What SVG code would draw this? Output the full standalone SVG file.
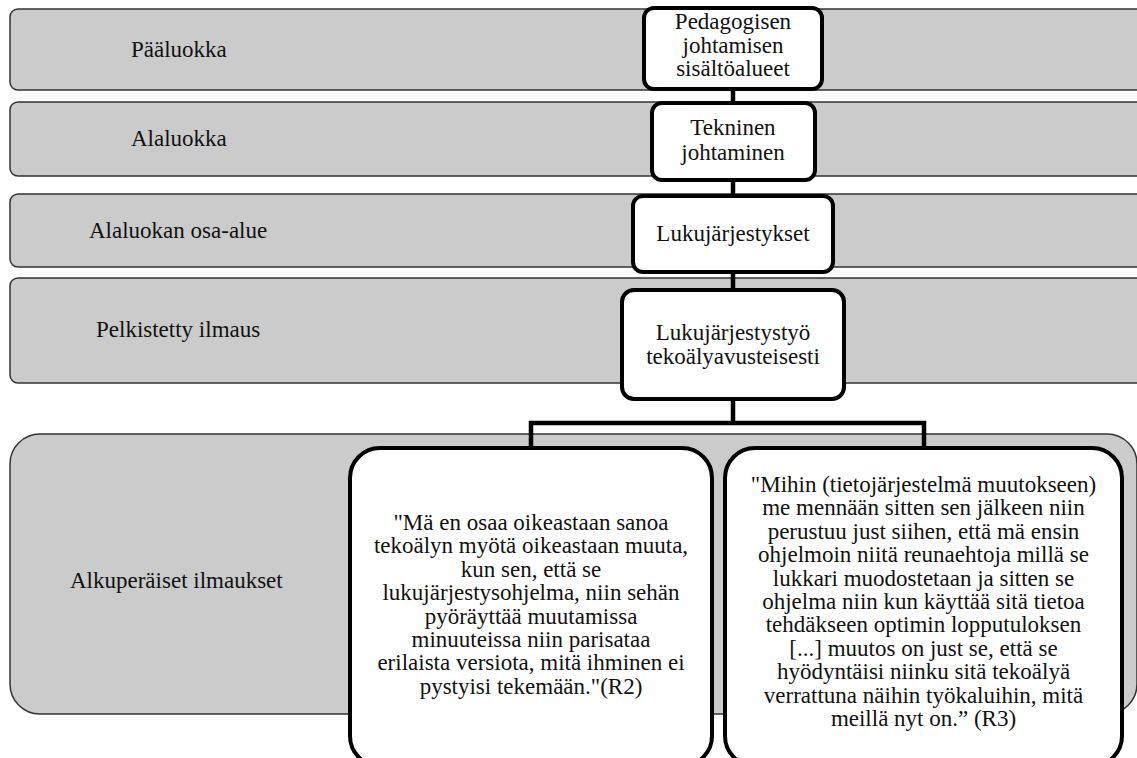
<svg xmlns="http://www.w3.org/2000/svg" width="1137" height="758" viewBox="0 0 1137 758">
<style>
.band{fill:#cbcbcb;stroke:#333;stroke-width:1.5}
.node{fill:#fff;stroke:#000;stroke-width:4}
.conn{fill:none;stroke:#000;stroke-width:4.5}
text{font-family:"Liberation Serif","Times New Roman",serif;font-size:23px;fill:#111}
.c{text-anchor:middle}
</style>
<rect width="1137" height="758" fill="#fff"/>
<g id="band-paaluokka"><rect class="band" x="10" y="9" width="1150" height="81" rx="8"/><text x="131" y="57">Pääluokka</text></g>
<g id="band-alaluokka"><rect class="band" x="10" y="102" width="1150" height="74" rx="8"/><text x="131" y="146">Alaluokka</text></g>
<g id="band-osa-alue"><rect class="band" x="10" y="194" width="1150" height="73" rx="8"/><text x="89" y="238">Alaluokan osa-alue</text></g>
<g id="band-pelkistetty"><rect class="band" x="10" y="278" width="1150" height="105" rx="8"/><text x="96" y="337">Pelkistetty ilmaus</text></g>
<g id="band-alkuperaiset"><rect class="band" x="10" y="434" width="1127" height="280" rx="30"/><text x="70" y="588">Alkuperäiset ilmaukset</text></g>
<g id="connectors">
<path class="conn" d="M733 88V103M733 180V196M733 272V290M733 399V423M531 448V423H924V448"/>
</g>
<g id="node-paaluokka"><rect class="node" x="644" y="8" width="178" height="81" rx="10"/>
<text class="c"><tspan x="733" y="29">Pedagogisen</tspan><tspan x="733" y="52.5">johtamisen</tspan><tspan x="733" y="76">sisältöalueet</tspan></text></g>
<g id="node-alaluokka"><rect class="node" x="652" y="103" width="163" height="77" rx="10"/>
<text class="c"><tspan x="733" y="135">Tekninen</tspan><tspan x="733" y="160">johtaminen</tspan></text></g>
<g id="node-osa-alue"><rect class="node" x="633" y="196" width="200" height="76" rx="10"/>
<text class="c" x="733" y="241">Lukujärjestykset</text></g>
<g id="node-pelkistetty"><rect class="node" x="622" y="290" width="222" height="109" rx="12"/>
<text class="c"><tspan x="733" y="340">Lukujärjestystyö</tspan><tspan x="733" y="364">tekoälyavusteisesti</tspan></text></g>
<g id="node-quote-r2"><rect class="node" x="350" y="448" width="362" height="318" rx="30"/>
<text class="c"><tspan x="531" y="530">"Mä en osaa oikeastaan sanoa</tspan><tspan x="531" y="553.4">tekoälyn myötä oikeastaan muuta,</tspan><tspan x="531" y="576.8">kun sen, että se</tspan><tspan x="531" y="600.2">lukujärjestysohjelma, niin sehän</tspan><tspan x="531" y="623.6">pyöräyttää muutamissa</tspan><tspan x="531" y="647">minuuteissa niin parisataa</tspan><tspan x="531" y="670.4">erilaista versiota, mitä ihminen ei</tspan><tspan x="531" y="693.8">pystyisi tekemään."(R2)</tspan></text></g>
<g id="node-quote-r3"><rect class="node" x="725" y="448" width="397" height="318" rx="30"/>
<text class="c"><tspan x="923.5" y="492">"Mihin (tietojärjestelmä muutokseen)</tspan><tspan x="923.5" y="515.4">me mennään sitten sen jälkeen niin</tspan><tspan x="923.5" y="538.8">perustuu just siihen, että mä ensin</tspan><tspan x="923.5" y="562.2">ohjelmoin niitä reunaehtoja millä se</tspan><tspan x="923.5" y="585.6">lukkari muodostetaan ja sitten se</tspan><tspan x="923.5" y="609">ohjelma niin kun käyttää sitä tietoa</tspan><tspan x="923.5" y="632.4">tehdäkseen optimin lopputuloksen</tspan><tspan x="923.5" y="655.8">[...] muutos on just se, että se</tspan><tspan x="923.5" y="679.2">hyödyntäisi niinku sitä tekoälyä</tspan><tspan x="923.5" y="702.6">verrattuna näihin työkaluihin, mitä</tspan><tspan x="923.5" y="726">meillä nyt on.” (R3)</tspan></text></g>
</svg>
